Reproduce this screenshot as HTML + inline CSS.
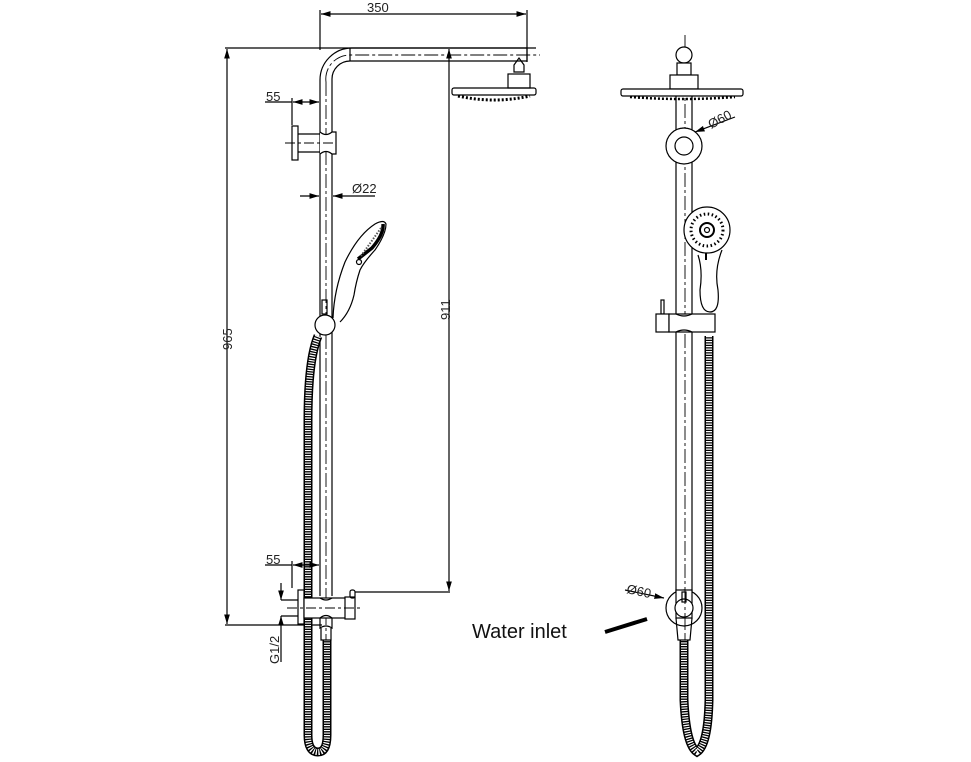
<!DOCTYPE html>
<html><head><meta charset="utf-8"><style>
html,body{margin:0;padding:0;background:#fff}
svg{display:block}
text{font-family:"Liberation Sans",sans-serif;fill:#222}
</style></head><body>
<svg width="971" height="762" viewBox="0 0 971 762" xmlns="http://www.w3.org/2000/svg">
<defs>
<marker id="ar" viewBox="0 0 10 6" refX="10" refY="3" markerWidth="8" markerHeight="5" orient="auto-start-reverse"><path d="M0,0L10,3L0,6z" fill="#000"/></marker>
</defs>
<g fill="none" stroke="#000" stroke-width="1.2">
<line x1="320" y1="10" x2="320" y2="50"/>
<line x1="527" y1="10" x2="527" y2="62"/>
<line x1="321" y1="14" x2="526" y2="14" marker-start="url(#ar)" marker-end="url(#ar)"/>
<line x1="225" y1="48" x2="536" y2="48"/>
<line x1="227" y1="49" x2="227" y2="624" marker-start="url(#ar)" marker-end="url(#ar)"/>
<line x1="225" y1="625" x2="322" y2="625"/>
<line x1="449" y1="49" x2="449" y2="591" marker-start="url(#ar)" marker-end="url(#ar)"/>
<line x1="355" y1="592" x2="450" y2="592"/>
<path d="M320,560 V80 A32,32 0 0 1 352,48 H527 V61 H350 A18,18 0 0 0 332,79 V596"/>
<line x1="350" y1="48" x2="350" y2="61"/>
<path d="M326,82 A24,24 0 0 1 350,55 H540" stroke-dasharray="14 3 3 3" stroke-width="0.9"/>
<line x1="326" y1="82" x2="326" y2="640" stroke-dasharray="14 3 3 3" stroke-width="0.9"/>
<line x1="320" y1="560" x2="320" y2="596"/>
<path d="M514,65 L519,58 L524,65 V72 H514 Z"/>
<rect x="508" y="74" width="22" height="14"/>
<rect x="452" y="88" width="84" height="7" rx="2"/>
<path d="M458,96 Q494,104 530,96" stroke-width="3" stroke-dasharray="2 2"/>
<line x1="292" y1="98" x2="292" y2="125"/>
<line x1="265" y1="102" x2="292" y2="102"/>
<line x1="293" y1="102" x2="319" y2="102" marker-start="url(#ar)" marker-end="url(#ar)"/>
<rect x="292" y="126" width="6" height="34" fill="#fff"/>
<path d="M298,134 H322 M298,152 H322"/>
<path d="M320,132 Q326,137 332,132 H336 V154 H332 Q326,149 320,154" fill="#fff"/>
<line x1="285" y1="143" x2="336" y2="143" stroke-dasharray="10 3 3 3" stroke-width="0.9"/>
<line x1="300" y1="196" x2="319" y2="196" marker-end="url(#ar)"/>
<line x1="375" y1="196" x2="333" y2="196" marker-end="url(#ar)"/>
<!-- handshower -->
<path d="M333,318 Q334,290 345,262 Q358,235 375,224 Q384,219 386,224 Q386,234 375,250 Q364,262 360,270 Q356,282 354,295 Q350,312 340,322" fill="#fff"/>
<path d="M383,224 Q384,234 372,248 L358,259" stroke-width="3.5"/>
<path d="M381,228 L361,256" stroke="#555" stroke-width="2" stroke-dasharray="1.5 1.5"/>
<circle cx="359" cy="262" r="2.5"/>
<rect x="322" y="300" width="5" height="14"/>
<circle cx="325" cy="325" r="10" fill="#fff"/>
<path d="M318,336 Q308,360 308,420 V735 Q308,752 318,752 Q327,752 327,735 V640" stroke="#000" stroke-width="9"/>
<path d="M318,336 Q308,360 308,420 V735 Q308,752 318,752 Q327,752 327,735 V640" stroke="#fff" stroke-width="6" stroke-dasharray="1.2 1.3"/>
<line x1="292" y1="561" x2="292" y2="588"/>
<line x1="265" y1="565" x2="292" y2="565"/>
<line x1="293" y1="565" x2="319" y2="565" marker-start="url(#ar)" marker-end="url(#ar)"/>
<rect x="298" y="590" width="6" height="34" fill="#fff"/>
<rect x="304" y="598" width="48" height="20" fill="#fff"/>
<rect x="345" y="597" width="10" height="22" fill="#fff"/>
<rect x="350" y="590" width="5" height="8" rx="2"/>
<path d="M320,598 Q326,602 332,598 M320,618 Q326,613 332,618"/>
<path d="M320,618 V628 Q326,624 332,628 V618"/>
<path d="M321,628 V640 H331 V628"/>
<line x1="287" y1="608" x2="360" y2="608" stroke-dasharray="10 3 3 3" stroke-width="0.9"/>
<line x1="281" y1="583" x2="281" y2="600" marker-end="url(#ar)"/>
<line x1="281" y1="662" x2="281" y2="616" marker-end="url(#ar)"/>
<line x1="281" y1="600" x2="298" y2="600"/>
<line x1="281" y1="616" x2="298" y2="616"/>
<!-- RIGHT VIEW -->
<line x1="685" y1="35" x2="685" y2="740" stroke-dasharray="14 3 3 3" stroke-width="0.9"/>
<circle cx="684" cy="55" r="8" fill="#fff"/>
<rect x="677" y="63" width="14" height="12" fill="#fff"/>
<rect x="670" y="75" width="28" height="14" fill="#fff"/>
<rect x="621" y="89" width="122" height="7" rx="2" fill="#fff"/>
<path d="M630,97 Q682,101 735,97" stroke-width="2.5" stroke-dasharray="2 2"/>
<line x1="676" y1="96" x2="676" y2="600"/>
<line x1="692" y1="96" x2="692" y2="600"/>
<circle cx="684" cy="146" r="18" fill="#fff"/>
<circle cx="684" cy="146" r="9" fill="#fff"/>
<line x1="695" y1="132" x2="735" y2="117" marker-start="url(#ar)"/>
<path d="M698,255 Q703,270 700,290 Q700,312 710,312 Q720,312 718,290 Q714,270 722,250" fill="#fff"/>
<circle cx="707" cy="230" r="23" fill="#fff"/>
<circle cx="707" cy="230" r="16" stroke-width="3" stroke-dasharray="1.5 2.5"/>
<circle cx="707" cy="230" r="7" stroke-width="2"/>
<circle cx="707" cy="230" r="2.5"/>
<line x1="706" y1="253" x2="706" y2="260" stroke-width="2"/>
<rect x="661" y="300" width="3" height="14"/>
<rect x="656" y="314" width="13" height="18" fill="#fff"/>
<rect x="669" y="314" width="46" height="18" fill="#fff"/>
<path d="M676,314 Q684,318 692,314 M676,332 Q684,328 692,332"/>
<path d="M709,336 V700 Q708,745 697,752 Q686,745 684,700 V640" stroke="#000" stroke-width="9"/>
<path d="M709,336 V700 Q708,745 697,752 Q686,745 684,700 V640" stroke="#fff" stroke-width="6" stroke-dasharray="1.2 1.3"/>
<circle cx="684" cy="608" r="18" fill="#fff"/>
<rect x="676" y="590" width="16" height="28" fill="#fff"/>
<circle cx="684" cy="608" r="9" fill="#fff"/>
<rect x="682" y="592" width="4" height="10"/>
<path d="M676,618 L678,640 H690 L692,618"/>
<line x1="625" y1="590" x2="664" y2="598" marker-end="url(#ar)"/>
<line x1="685" y1="590" x2="685" y2="630" stroke-dasharray="14 3 3 3" stroke-width="0.9"/>
<line x1="605" y1="632" x2="647" y2="619" stroke-width="4"/>
</g>
<g font-size="13">
<text x="367" y="12">350</text>
<text x="266" y="101">55</text>
<text x="266" y="564">55</text>
<text x="352" y="193">Ø22</text>
<text transform="translate(232,350) rotate(-90)">965</text>
<text transform="translate(450,320) rotate(-90)">911</text>
<text transform="translate(279,664) rotate(-90)">G1/2</text>
<text transform="translate(711,129) rotate(-28)">Ø60</text>
<text transform="translate(626,593) rotate(12)">Ø60</text>
</g>
<text x="472" y="638" font-size="20" style="fill:#111">Water inlet</text>
</svg>
</body></html>
